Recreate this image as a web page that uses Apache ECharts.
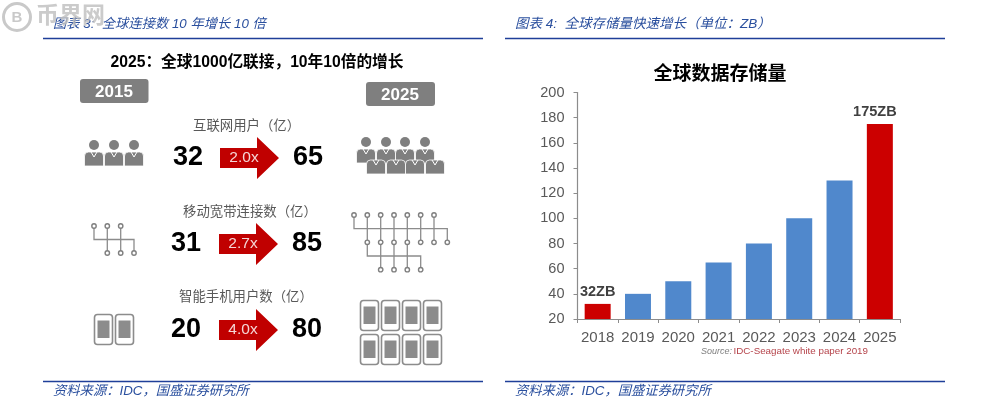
<!DOCTYPE html>
<html>
<head>
<meta charset="utf-8">
<title>全球连接数与数据存储量</title>
<script src="https://cdn.jsdelivr.net/npm/echarts@6/dist/echarts.min.js"></script>
<style>
  html, body { margin: 0; padding: 0; background: #fff; }
  #main { width: 987px; height: 419px; }
</style>
</head>
<body>
<div id="main"></div>
<script>
// 图表 4 数据
var years = ['2018', '2019', '2020', '2021', '2022', '2023', '2024', '2025']
var storage = [32, 40, 50, 65, 80, 100, 130, 175]
var redYears = ['2018', '2025']
var yTicks = { min: 20, max: 200, interval: 20 }

// 图表 3 数据
var metricNames = ['互联网用户（亿）', '移动宽带连接数（亿）', '智能手机用户数（亿）']
var values2015 = [32, 31, 20]
var values2025 = [65, 85, 80]
var multiples = ['2.0x', '2.7x', '4.0x']

var FONT = '"Liberation Sans", "Noto Sans CJK SC", sans-serif'
var BLUE = '#1f3f99'
var GREY = '#7f7f7f'
var RED = '#c00000'

var g = []

function text(x, y, str, size, color, opt) {
  opt = opt || {}
  g.push({
    type: 'text', x: x, y: y + 1, z: 5,
    style: {
      text: str, fontSize: size, fill: color, fontFamily: FONT,
      fontWeight: opt.bold ? 'bold' : 'normal',
      fontStyle: opt.italic ? 'italic' : 'normal',
      align: opt.align || 'center', verticalAlign: 'middle'
    }
  })
}
function rect(x, y, w, h, r, fill, stroke, lw) {
  g.push({
    type: 'rect', z: 3,
    shape: { x: x, y: y, width: w, height: h, r: r },
    style: { fill: fill || 'none', stroke: stroke || 'none', lineWidth: lw || 0 }
  })
}
function line(points, color, lw) {
  g.push({
    type: 'polyline', z: 3,
    shape: { points: points },
    style: { stroke: color, lineWidth: lw, fill: 'none' }
  })
}
function node(x, y) {
  g.push({
    type: 'circle', z: 4,
    shape: { cx: x, cy: y, r: 2.2 },
    style: { fill: '#fff', stroke: GREY, lineWidth: 1.4 }
  })
}

// 页眉页脚
function frame(x0, num, title, size) {
  text(x0 + 10, 23, '图表 ' + num + ':  ' + title, size, '#2a4f9e', { italic: true, align: 'left' })
  line([[x0, 38.5], [x0 + 440, 38.5]], BLUE, 1.5)
  line([[x0, 381.5], [x0 + 440, 381.5]], BLUE, 1.5)
  text(x0 + 10, 390, '资料来源：IDC，国盛证券研究所', 13.3, '#2a4f9e', { italic: true, align: 'left' })
}
frame(43, 3, '全球连接数 10 年增长 10 倍', 13.3)
frame(505, 4, '全球存储量快速增长（单位：ZB）', 13.5)

// 水印
g.push({
  type: 'circle', z: 6,
  shape: { cx: 17, cy: 17, r: 13.5 },
  style: { fill: 'none', stroke: '#c9c9c9', lineWidth: 3 }
})
text(17, 17, 'B', 15, '#c9c9c9', { bold: true })
text(36, 16, '币界网', 23, 'rgba(190,190,190,0.8)', { align: 'left', bold: true })

// 图表 3
text(257, 62, '2025：全球1000亿联接，10年10倍的增长', 15.7, '#000', { bold: true })
rect(80, 79, 68.5, 24, 3, GREY)
text(114, 91, '2015', 17, '#fff', { bold: true })
rect(366, 82, 69, 24, 3, GREY)
text(400, 94, '2025', 17, '#fff', { bold: true })

var labelX = [193, 183, 179]
var labelY = [125, 211, 296]
var rowY = [158, 244, 330]
metricNames.forEach(function (name, i) {
  var y = rowY[i]
  text(labelX[i], labelY[i], name, 13.4, '#595959', { align: 'left' })
  text(188 - (i ? 2 : 0), y - 1, String(values2015[i]), 27, '#000', { bold: true })
  text(308 - (i ? 1 : 0), y - 1, String(values2025[i]), 27, '#000', { bold: true })
  var ax = i ? 219 : 220
  g.push({
    type: 'polygon', z: 3,
    shape: {
      points: [[ax, y - 10], [ax + 37, y - 10], [ax + 37, y - 21], [ax + 59, y],
        [ax + 37, y + 21], [ax + 37, y + 10], [ax, y + 10]]
    },
    style: { fill: RED }
  })
  text(ax + 24, y - 1, multiples[i], 15.5, '#f5d5d5')
})

// 人物图标
function person(cx, top, head) {
  if (head) {
    g.push({ type: 'circle', z: 3, shape: { cx: cx, cy: top - 7, r: 5 }, style: { fill: GREY } })
  }
  g.push({
    type: 'rect', z: 3,
    shape: { x: cx - 9.5, y: top, width: 19, height: 14, r: [4, 4, 0, 0] },
    style: { fill: GREY, stroke: '#fff', lineWidth: 0.8 }
  })
  line([[cx - 3, top], [cx, top + 5], [cx + 3, top]], '#fff', 1)
}
;[94, 114, 134].forEach(function (x) { person(x, 152, true) })
;[366, 386, 405, 425].forEach(function (x) { person(x, 149, true) })
;[376, 396, 415, 435].forEach(function (x) { person(x, 160, false) })

// 连接图标
var cColor = '#8c8c8c'
function wire(pts) { line(pts, cColor, 1.3) }
;[[[94, 226], [94, 239.5], [134, 239.5], [134, 253]],
  [[107.3, 226], [107.3, 253]],
  [[120.7, 226], [120.7, 253]]].forEach(wire)
;[[94, 226], [107.3, 226], [120.7, 226], [107.3, 253], [120.7, 253], [134, 253]]
  .forEach(function (p) { node(p[0], p[1]) })

var netX = [354, 367.3, 380.7, 394, 407.3, 420.7, 434, 447.3]
;[[[netX[0], 215], [netX[0], 228.7], [netX[7], 228.7], [netX[7], 242.3]],
  [[netX[1], 215], [netX[1], 256], [netX[5], 256], [netX[5], 269.7]],
  [[netX[2], 215], [netX[2], 269.7]],
  [[netX[3], 215], [netX[3], 269.7]],
  [[netX[4], 215], [netX[4], 269.7]],
  [[netX[5], 215], [netX[5], 242.3]],
  [[netX[6], 215], [netX[6], 242.3]]].forEach(wire)
netX.slice(0, 7).forEach(function (x) { node(x, 215) })
netX.slice(1).forEach(function (x) { node(x, 242.3) })
netX.slice(2, 6).forEach(function (x) { node(x, 269.7) })

// 手机图标
function phone(x, y) {
  rect(x, y, 18, 30, 3, '#fff', '#8c8c8c', 1.6)
  rect(x + 3, y + 6, 12, 17.5, 0, '#8c8c8c')
}
;[94.5, 115.5].forEach(function (x) { phone(x, 314.5) })
;[360.5, 381.5, 402.5, 423.5].forEach(function (x) {
  phone(x, 300.5)
  phone(x, 334.5)
})

// 图表 4 标题和来源
text(720, 74, '全球数据存储量', 19, '#000', { bold: true })
text(701, 350, 'Source:', 9, '#7f7f7f', { italic: true, align: 'left' })
text(733.5, 350, 'IDC-Seagate white paper 2019', 9.8, '#b5434a', { align: 'left' })

var chart = echarts.init(document.getElementById('main'), null, { renderer: 'canvas' })
chart.setOption({
  animation: false,
  backgroundColor: '#fff',
  textStyle: { fontFamily: FONT },
  grid: { left: 577.5, top: 92.5, width: 322.5, height: 226.5, containLabel: false },
  xAxis: {
    type: 'category',
    data: years,
    axisLine: { lineStyle: { color: '#8c8c8c', width: 1.2 } },
    axisTick: { show: true, alignWithLabel: false, length: 4, lineStyle: { color: '#8c8c8c' } },
    axisLabel: { color: '#595959', fontSize: 15, margin: 11, interval: 0 }
  },
  yAxis: {
    type: 'value',
    min: yTicks.min,
    max: yTicks.max,
    interval: yTicks.interval,
    splitLine: { show: false },
    axisLine: { show: true, lineStyle: { color: '#8c8c8c', width: 1.2 } },
    axisTick: { show: true, length: 4, lineStyle: { color: '#8c8c8c' } },
    axisLabel: { color: '#595959', fontSize: 14.5, margin: 13 }
  },
  series: [{
    type: 'bar',
    barWidth: 26,
    data: storage.map(function (v, i) {
      var red = redYears.indexOf(years[i]) >= 0
      return {
        value: v,
        itemStyle: { color: red ? '#cc0000' : '#5088cc' },
        label: {
          show: red,
          position: 'top',
          distance: 5,
          offset: [years[i] === '2025' ? -5 : 0, 0],
          formatter: '{c}ZB',
          fontSize: 14.5,
          fontWeight: 'bold',
          color: '#404040'
        }
      }
    })
  }],
  graphic: { elements: g }
})
</script>
</body>
</html>
